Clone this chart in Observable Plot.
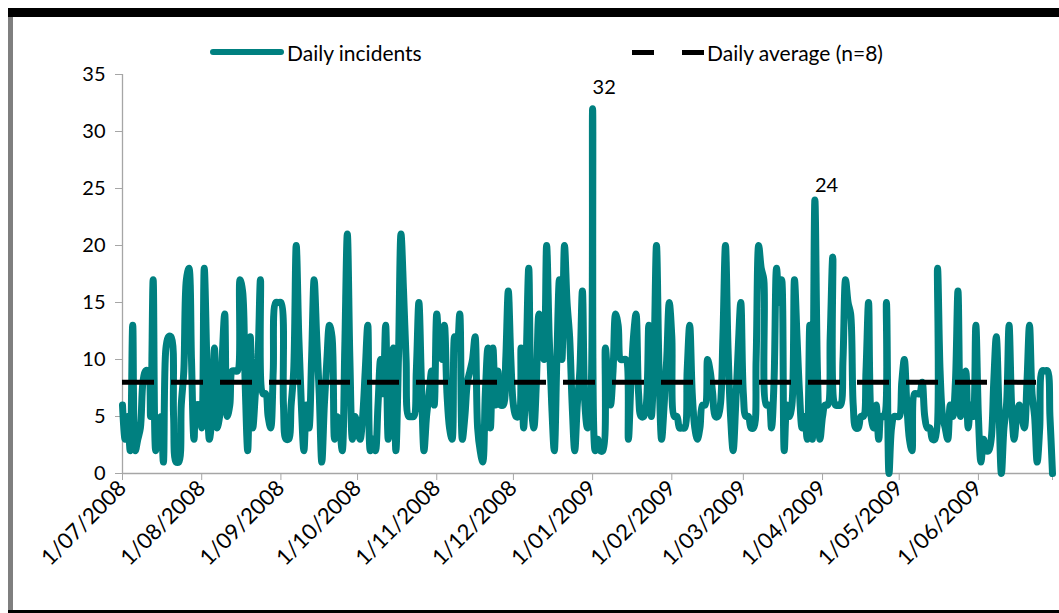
<!DOCTYPE html>
<html><head><meta charset="utf-8">
<script src="https://cdn.jsdelivr.net/npm/d3@7"></script>
<script src="https://cdn.jsdelivr.net/npm/@observablehq/plot@0.6"></script>
<style>
body{margin:0;background:#fff;}
#wrap{position:relative;width:1059px;height:613px;overflow:hidden;font-family:Lato,"DejaVu Sans",sans-serif;}
#wrap svg.plot{position:absolute;left:0;top:0;}
.bar{position:absolute;}
.leg{position:absolute;font-size:21px;color:#000;line-height:1;white-space:nowrap;}
</style></head><body>
<div id="wrap"></div>
<script>
const startDate = "2008-07-01";
const seriesNames = ["Daily incidents", "Daily average (n=8)"];
const dailyIncidents = [
  6,3,5,2,13,2,3,4,8,9,
  9,5,17,2,4,5,1,11,12,12,
  5,1,1,6,9,17,18,10,3,6,
  6,4,18,10,3,5,11,4,5,10,
  14,5,6,9,9,9,17,16,8,2,
  12,4,7,10,17,7,7,5,4,9,
  15,15,15,6,3,3,6,9,20,12,
  6,2,6,4,10,17,12,7,1,6,
  10,13,12,3,5,4,2,11,21,10,
  3,5,4,3,5,9,13,2,3,2,
  6,10,7,13,3,7,11,2,10,21,
  16,10,5,5,5,9,15,8,2,5,
  7,9,6,14,11,10,13,7,4,3,
  12,11,14,3,5,8,9,10,12,4,
  2,1,7,11,4,11,6,9,6,6,
  10,16,10,6,5,5,11,4,10,18,
  6,4,8,14,12,10,20,12,6,2,
  10,17,10,20,15,12,6,2,6,9,
  16,6,4,5,32,2,3,2,2,11,
  8,6,9,14,13,10,10,10,3,8,
  12,14,7,5,5,6,13,5,10,20,
  9,3,6,10,15,12,5,5,4,4,
  4,9,13,7,4,3,4,6,6,10,
  9,7,5,5,6,12,20,11,5,2,
  6,11,15,7,5,5,4,4,10,20,
  18,17,6,6,4,8,18,15,17,2,
  6,5,6,17,12,7,4,5,3,13,
  3,24,9,3,5,6,6,12,19,6,
  6,6,10,17,15,14,6,4,4,5,
  5,9,15,5,4,6,3,5,5,15,
  0,4,5,5,5,8,10,6,3,2,
  7,7,7,8,5,4,4,3,3,18,
  9,5,4,3,6,5,8,16,5,8,
  9,4,6,5,13,5,1,3,2,2,
  3,8,12,6,0,4,6,13,6,3,
  5,6,5,4,8,13,7,5,1,4,
  9,9,9,5,0
];
const dailyAverage = 8;
const yTicks = [0, 5, 10, 15, 20, 25, 30, 35];
const annotatedDates = ["2009-01-01", "2009-03-29"];

const start = new Date(startDate + "T00:00:00Z");
const data = dailyIncidents.map((v, i) => ({date: d3.utcDay.offset(start, i), value: v}));
const endDate = data[data.length - 1].date;
const monthTicks = d3.utcMonth.range(start, endDate);
const xTicks = [...monthTicks, endDate];
const fmt = d => `${d.getUTCDate()}/${String(d.getUTCMonth() + 1).padStart(2, "0")}/${d.getUTCFullYear()}`;
const annots = data.filter(d => annotatedDates.includes(d.date.toISOString().slice(0, 10)));

const teal = "#008080";
const axisGrey = "#a6a6a6";

const plot = Plot.plot({
  width: 1059, height: 613,
  marginLeft: 122, marginRight: 7, marginTop: 74, marginBottom: 140,
  x: {type: "utc", domain: [start, endDate]},
  y: {domain: [0, 35]},
  style: {fontFamily: "Lato, sans-serif", fontSize: "19px", color: "#000", background: "transparent"},
  marks: [
    Plot.axisY({ticks: yTicks, tickSize: 7, tickPadding: 10, stroke: axisGrey, fill: "#000", label: null, fontSize: 20, tickFormat: d => String(d)}),
    Plot.axisX({ticks: xTicks, tickFormat: d => (+d === +endDate ? "" : fmt(d)), tickRotate: -45, tickSize: 7, tickPadding: 4, stroke: axisGrey, fill: "#000", label: null, fontSize: 22}),
    Plot.ruleX([start], {stroke: axisGrey, strokeWidth: 1.3}),
    Plot.ruleY([0], {stroke: axisGrey, strokeWidth: 1.3}),
    Plot.lineY(data, {x: "date", y: "value", stroke: teal, strokeWidth: 7, strokeLinejoin: "round", strokeLinecap: "round", curve: "catmull-rom"}),
    Plot.ruleY([dailyAverage], {stroke: "#000", strokeWidth: 5, strokeDasharray: "32,17"}),
    Plot.text(annots.slice(0, 1), {x: "date", y: "value", text: d => String(d.value), textAnchor: "start", dx: 0, dy: -21, fontSize: 20, fill: "#000"}),
    Plot.text(annots.slice(1), {x: "date", y: "value", text: d => String(d.value), textAnchor: "start", dx: 0, dy: -14, fontSize: 20, fill: "#000"})
  ]
});

const wrap = document.getElementById("wrap");
wrap.appendChild(plot);

function addDiv(cls, css, html) {
  const el = document.createElement("div");
  el.className = cls;
  el.style.cssText = css;
  if (html) el.textContent = html;
  wrap.appendChild(el);
  return el;
}
// frame
addDiv("bar", "left:8px;top:8px;width:1051px;height:9px;background:#000;");
addDiv("bar", "left:8px;top:17px;width:5px;height:593px;background:#7f7f7f;");
addDiv("bar", "left:8px;top:610px;width:1051px;height:3px;background:#000;");
// legend
addDiv("bar", `left:210px;top:49px;width:74px;height:6px;border-radius:3px;background:${teal};`);
addDiv("leg", "left:287px;top:42px;", seriesNames[0]);
addDiv("bar", "left:632px;top:50px;width:22px;height:5px;background:#000;");
addDiv("bar", "left:682px;top:50px;width:22px;height:5px;background:#000;");
addDiv("leg", "left:707px;top:42px;", seriesNames[1]);
</script>
</body></html>
